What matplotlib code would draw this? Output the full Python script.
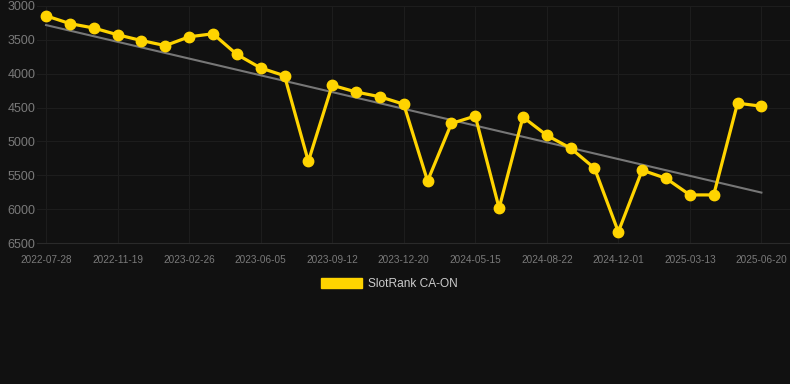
import matplotlib

matplotlib.use("Agg")
import matplotlib.pyplot as plt
import numpy as np
from matplotlib.patches import Patch

# data (category axis, one point per sample)
tick_labels = [
    "2022-07-28", "2022-11-19", "2023-02-26", "2023-06-05", "2023-09-12", "2023-12-20",
    "2024-05-15", "2024-08-22", "2024-12-01", "2025-03-13", "2025-06-20",
]
ranks = [
    3145, 3260, 3325, 3425, 3510, 3585, 3455, 3410, 3715, 3915,
    4030, 5295, 4170, 4270, 4340, 4450, 5585, 4735, 4625, 5985,
    4640, 4910, 5100, 5395, 6335, 5425, 5545, 5790, 5790, 4435,
    4480,
]
series_name = "SlotRank CA-ON"

BG = "#111111"
GRID = "#1d1d1d"
TEXT = "#7a7a7a"
GOLD = "#ffd400"
TREND = "#777777"

plt.rcParams["font.family"] = ["Liberation Sans", "DejaVu Sans"]

x = np.arange(len(ranks))
y = np.array(ranks, dtype=float)
slope, intercept = np.polyfit(x, y, 1)

fig = plt.figure(figsize=(7.9, 3.84), dpi=100, facecolor=BG)
ax = fig.add_axes([37 / 790, 1 - 243 / 384, 753 / 790, 237 / 384], facecolor=BG)

ax.plot(x, slope * x + intercept, color=TREND, linewidth=1.5, zorder=2)
ax.plot(x, y, color=GOLD, linewidth=2.3, marker="o", markersize=7.5, zorder=3)

ax.set_xlim(-0.38, 31.2)
ax.set_ylim(6500, 3000)
ax.set_yticks(np.arange(3000, 6501, 500))
ax.set_xticks(x[::3])
ax.set_xticklabels(tick_labels)

ax.grid(True, color=GRID, linewidth=0.8)
ax.set_axisbelow(True)
for side in ["top", "right", "left"]:
    ax.spines[side].set_visible(False)
ax.spines["bottom"].set_color("#2a2a2a")
ax.tick_params(axis="y", length=0, colors=TEXT, labelsize=9, pad=1)
ax.tick_params(axis="x", length=0, colors=TEXT, labelsize=7.2, pad=8.5)

handle = Patch(facecolor=GOLD, edgecolor=GOLD)
fig.legend(
    [handle],
    [series_name],
    loc="center",
    bbox_to_anchor=(0.493, 1 - 284 / 384),
    frameon=False,
    handlelength=3.4,
    handleheight=1.0,
    handletextpad=0.55,
    fontsize=8.6,
    labelcolor="#cccccc",
)

fig.savefig("out.png", dpi=100, facecolor=BG)
